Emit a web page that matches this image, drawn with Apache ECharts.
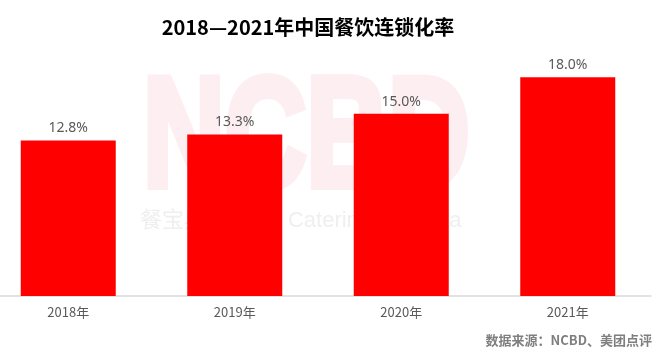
<!DOCTYPE html>
<html>
<head>
<meta charset="utf-8">
<script src="https://cdn.jsdelivr.net/npm/echarts@6/dist/echarts.min.js"></script>
<style>
  html, body { margin: 0; padding: 0; background: #fff; }
  #chart { width: 657px; height: 353px; }
</style>
</head>
<body>
<div id="chart"></div>
<script>
// 数据
const years = ['2018年', '2019年', '2020年', '2021年']
const chainRate = [12.8, 13.3, 15.0, 18.0]

const chart = echarts.init(document.getElementById('chart'))

chart.setOption({
  backgroundColor: '#fff',
  animation: false,
  title: {
    text: '2018—2021年中国餐饮连锁化率',
    left: 303,
    top: 12,
    textAlign: 'center',
    textStyle: {
      fontSize: 20,
      fontWeight: 'bold',
      color: '#000',
      fontFamily: 'Noto Sans CJK SC'
    }
  },
  graphic: [
    // 水印
    {
      type: 'text',
      z: 0,
      left: 140,
      top: 62,
      scaleX: 0.73,
      style: {
        text: 'NCBD',
        fontSize: 155,
        fontWeight: 'bold',
        fontFamily: 'Liberation Sans',
        fill: '#fdeef1',
        stroke: '#fdeef1',
        lineWidth: 8
      }
    },
    {
      type: 'text',
      z: 0,
      left: 140,
      top: 210,
      style: {
        text: '餐宝典 Dietary Catering Big Data',
        fontSize: 22,
        fontFamily: 'Liberation Sans, Noto Sans CJK SC',
        fill: '#efefef'
      }
    },
    {
      type: 'text',
      right: 5,
      top: 334,
      style: {
        text: '数据来源：NCBD、美团点评',
        fontSize: 13,
        fontWeight: 'bold',
        fontFamily: 'Noto Sans CJK SC',
        fill: '#7f7f7f'
      }
    }
  ],
  grid: {
    left: -15,
    right: 6,
    top: 53,
    bottom: 57,
    containLabel: false,
    outerBoundsMode: 'none'
  },
  xAxis: {
    type: 'category',
    data: years,
    axisLine: { lineStyle: { color: '#d9d9d9', width: 1.5 }},
    axisTick: { show: false },
    axisLabel: {
      margin: 10,
      fontSize: 13,
      color: '#595959',
      fontFamily: 'Noto Sans CJK SC'
    }
  },
  yAxis: {
    type: 'value',
    min: 0,
    max: 20,
    show: false,
    splitLine: { show: false }
  },
  series: [
    {
      name: '连锁化率',
      type: 'bar',
      z: 2,
      barWidth: 95,
      data: chainRate,
      itemStyle: { color: '#ff0000' },
      label: {
        show: true,
        position: 'top',
        distance: 5,
        formatter: p => p.value.toFixed(1) + '%',
        fontSize: 14,
        color: '#595959',
        fontFamily: 'Noto Sans'
      }
    }
  ]
})
</script>
</body>
</html>
